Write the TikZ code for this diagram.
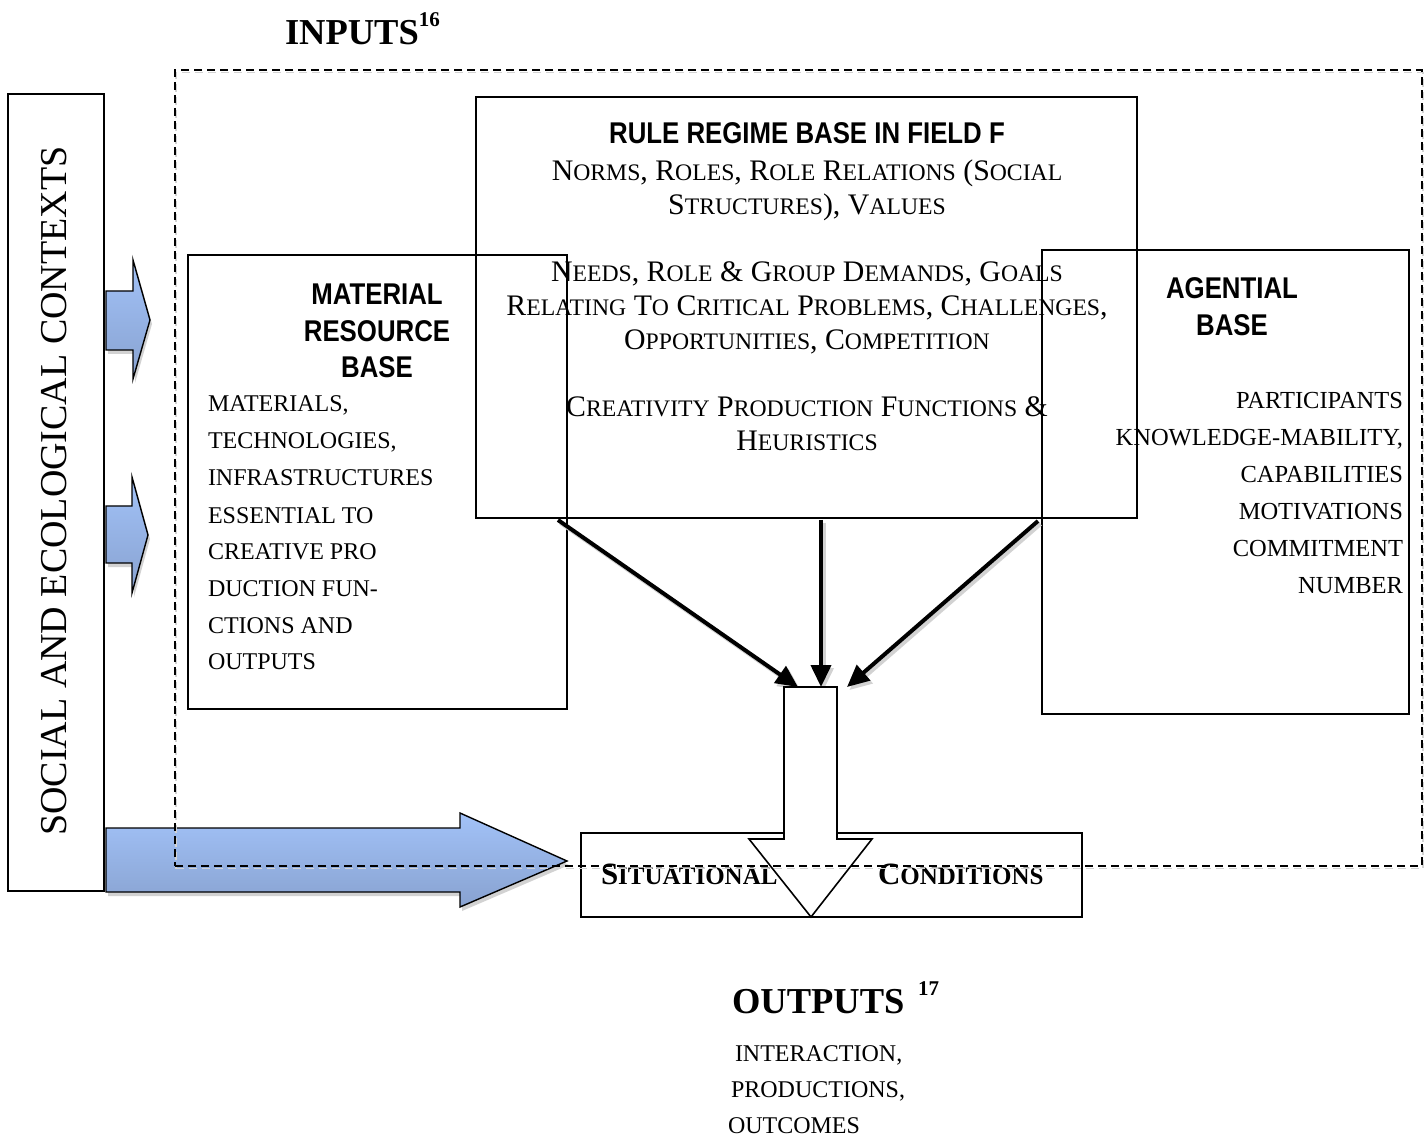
\documentclass[tikz,border=0pt]{standalone}
\usepackage{fontspec}
\setmainfont{Liberation Serif}
\newfontfamily\hdr[FakeStretch=0.86]{Liberation Sans}
\usetikzlibrary{arrows.meta,calc}
\definecolor{blueT}{RGB}{162,194,248}
\definecolor{blueB}{RGB}{136,162,208}
\newcommand\smA[1]{{\fontsize{23.7}{23.7}\selectfont #1}}
\newcommand\smB[1]{{\fontsize{25}{25}\selectfont #1}}
\begin{document}
\begin{tikzpicture}[x=1pt,y=-1pt,
  box/.style={draw=black, line width=1.6pt, inner sep=0pt, outer sep=0pt, fill=none},
  txt/.style={inner sep=0pt, outer sep=0pt},
  hd/.style={txt, anchor=base, font=\hdr\bfseries\fontsize{30}{30}\selectfont},
  rrt/.style={txt, anchor=base, font=\fontsize{29.8}{34}\selectfont},
  bd/.style={txt, anchor=base west, font=\fontsize{24}{24}\selectfont},
  ag/.style={txt, anchor=base east, font=\fontsize{24.5}{24}\selectfont},
  blk/.style={line width=4pt, -{Triangle[length=22pt,width=20pt]}},
  blkshade/.style={blk, draw=gray!35, fill=gray!35},
  bluearr/.style={draw=black, line width=1.4pt, top color=blueT, bottom color=blueB},
  blueshade/.style={fill=gray!35, draw=none},
  dashbox/.style={draw=black, line width=1.6pt, dash pattern=on 8pt off 5pt, inner sep=0pt, outer sep=0pt},
  title/.style={txt, anchor=base west, font=\bfseries\fontsize{36.5}{36}\selectfont},
  sup/.style={txt, anchor=base west, font=\bfseries\fontsize{21}{21}\selectfont}
  ]
\useasboundingbox (0,0) rectangle (1428,1139);
\fill[white] (0,0) rectangle (1428,1139);

% left context bar
\node[box, minimum width=96, minimum height=797] (ctx) at (56,492.5) {};
\node[txt, rotate=90, font=\fontsize{38}{38}\selectfont] (ctxl) at (54,491) {SOCIAL AND ECOLOGICAL CONTEXTS};

% main boxes
\node[box, minimum width=661, minimum height=421] (rr) at (806.5,307.5) {};
\node[box, minimum width=379, minimum height=454] (mat) at (377.5,482) {};
\node[box, minimum width=367, minimum height=464] (agt) at (1225.5,482) {};

% rule regime texts
\node[hd] (rrh) at (807,144) {RULE REGIME BASE IN FIELD F};
\node[rrt] (rr1) at (807,181) {N\smA{ORMS}, R\smA{OLES}, R\smA{OLE} R\smA{ELATIONS} (S\smA{OCIAL}};
\node[rrt] (rr2) at (807,215) {S\smA{TRUCTURES}), V\smA{ALUES}};
\node[rrt] (rr3) at (807,282) {N\smA{EEDS}, R\smA{OLE} \& G\smA{ROUP} D\smA{EMANDS}, G\smA{OALS}};
\node[rrt] (rr4) at (807,316) {R\smA{ELATING} T\smA{O} C\smA{RITICAL} P\smA{ROBLEMS}, C\smA{HALLENGES},};
\node[rrt] (rr5) at (807,350) {O\smA{PPORTUNITIES}, C\smA{OMPETITION}};
\node[rrt] (rr6) at (807,417) {C\smA{REATIVITY} P\smA{RODUCTION} F\smA{UNCTIONS} \&};
\node[rrt] (rr7) at (807,451) {H\smA{EURISTICS}};

% material texts
\node[hd] (mh1) at (377,305) {MATERIAL};
\node[hd] (mh2) at (377,342) {RESOURCE};
\node[hd] (mh3) at (377,378) {BASE};
\node[bd] (m1) at (208,412) {MATERIALS,};
\node[bd] (m2) at (208,449) {TECHNOLOGIES,};
\node[bd] (m3) at (208,486) {INFRASTRUCTURES};
\node[bd] (m4) at (208,523) {ESSENTIAL TO};
\node[bd] (m5) at (208,559.5) {CREATIVE PRO};
\node[bd] (m6) at (208,596) {DUCTION FUN-};
\node[bd] (m7) at (208,633) {CTIONS AND};
\node[bd] (m8) at (208,669.5) {OUTPUTS};

% agential texts
\node[hd] (ah1) at (1232,299) {AGENTIAL};
\node[hd] (ah2) at (1232,336) {BASE};
\node[ag] (a1) at (1403,409) {PARTICIPANTS};
\node[ag] (a2) at (1403,446) {KNOWLEDGE-MABILITY,};
\node[ag] (a3) at (1403,483) {CAPABILITIES};
\node[ag] (a4) at (1403,520) {MOTIVATIONS};
\node[ag] (a5) at (1403,557) {COMMITMENT};
\node[ag] (a6) at (1403,593.5) {NUMBER};

% situational conditions
\node[box, minimum width=501, minimum height=84] (sit) at (831.5,875) {};
\node[txt, anchor=base west, font=\bfseries\fontsize{31}{31}\selectfont] (sit1) at (601,884) {S\smB{ITUATIONAL}};
\node[txt, anchor=base west, font=\bfseries\fontsize{31}{31}\selectfont] (sit2) at (878,884) {C\smB{ONDITIONS}};

% black arrows
\coordinate (a1s) at (558,520);
\coordinate (a1e) at (798,687);
\coordinate (a2s) at (821,520);
\coordinate (a2e) at (821,687);
\coordinate (a3s) at (1038,521);
\coordinate (a3e) at (847,687);
\foreach \s/\e in {a1s/a1e,a2s/a2e,a3s/a3e}{
  \draw[blkshade] ($(\s)+(2.5,3)$) -- ($(\e)+(2.5,3)$);
}
\draw[blk] (a1s) -- (a1e);
\draw[blk] (a2s) -- (a2e);
\draw[blk] (a3s) -- (a3e);

% block arrow down
\draw[fill=white, line width=1.6pt, line join=miter] (784,687) -- (837,687) -- (837,839) -- (872,839)
  -- (811,917) -- (749,839) -- (784,839) -- cycle;

% blue arrows
\begin{scope}[shift={(2,4)}]
\fill[blueshade] (106,291) -- (133,291) -- (133,260) -- (150,320) -- (133,379) -- (133,350) -- (106,350) -- cycle;
\fill[blueshade] (106,506) -- (132,506) -- (132,477) -- (148,535) -- (132,593) -- (132,563) -- (106,563) -- cycle;
\fill[blueshade] (106,828) -- (460,828) -- (460,813) -- (567,861) -- (460,907) -- (460,892) -- (106,892) -- cycle;
\end{scope}
\path[bluearr] (106,291) -- (133,291) -- (133,260) -- (150,320) -- (133,379) -- (133,350) -- (106,350) -- cycle;
\path[bluearr] (106,506) -- (132,506) -- (132,477) -- (148,535) -- (132,593) -- (132,563) -- (106,563) -- cycle;
\path[bluearr] (106,828) -- (460,828) -- (460,813) -- (567,861) -- (460,907) -- (460,892) -- (106,892) -- cycle;

% dashed inputs frame
\node[dashbox, draw=gray!35, minimum width=1247, minimum height=796] (inpsh) at (799.5,470.5) {};
\node[dashbox, minimum width=1247, minimum height=796] (inp) at (798.5,468) {};

% titles
\node[title] (inpt) at (285,45) {INPUTS};
\node[sup] (inps) at (inpt.base east) [yshift=18pt] {16};
\node[title] (outt) at (732,1013) {OUTPUTS};
\node[sup] (outs) at (918,995) {17};
\node[bd] (o1) at (735,1061) {INTERACTION,};
\node[bd] (o2) at (731,1097) {PRODUCTIONS,};
\node[bd] (o3) at (728,1133) {OUTCOMES};
\end{tikzpicture}
\end{document}
